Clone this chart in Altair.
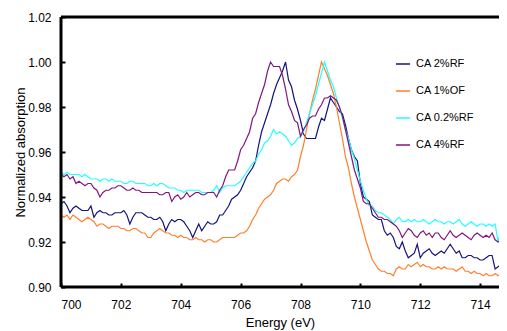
import altair as alt
import pandas as pd

# Energy grid (eV), 0.1 eV steps from 700.0 to 714.9
energy = [round(700 + i / 10, 1) for i in range(150)]

series_names = ["CA 2%RF", "CA 1%OF", "CA 0.2%RF", "CA 4%RF"]
series_colors = ["#14147f", "#ff7f2a", "#22ffff", "#82167f"]

ca_2rf = [
    .937, .938, .936, .933, .935, .936, .935, .934, .934, .934,
    .936, .931, .933, .934, .933, .933, .932, .932, .933, .933,
    .933, .934, .932, .928, .931, .933, .933, .933, .932, .931,
    .931, .930, .930, .931, .929, .925, .928, .930, .929, .930,
    .930, .929, .927, .925, .922, .925, .928, .925, .927, .929,
    .928, .928, .929, .932, .932, .934, .936, .939, .940, .941,
    .943, .946, .949, .951, .953, .956, .963, .969, .973, .977,
    .981, .986, .990, .993, .996, 1.000, .992, .989, .983, .979,
    .974, .968, .966, .966, .966, .966, .971, .975, .974, .979,
    .984, .982, .980, .978, .977, .972, .966, .961, .958, .956,
    .946, .940, .939, .938, .932, .931, .930, .930, .925, .923,
    .924, .922, .918, .917, .920, .916, .913, .914, .915, .919,
    .913, .915, .916, .917, .915, .914, .915, .916, .915, .917,
    .919, .917, .915, .916, .913, .913, .914, .914, .913, .913,
    .912, .912, .913, .914, .914, .908, .909, .910, .911, .910,
]

ca_1of = [
    .932, .931, .932, .930, .932, .931, .930, .929, .930, .931,
    .930, .929, .927, .928, .928, .927, .926, .927, .927, .927,
    .926, .926, .925, .925, .926, .926, .925, .924, .924, .922,
    .922, .924, .925, .926, .925, .924, .924, .923, .923, .922,
    .923, .922, .922, .921, .921, .922, .921, .921, .920, .921,
    .921, .920, .920, .921, .922, .922, .922, .922, .922, .923,
    .924, .924, .925, .927, .930, .932, .935, .937, .939, .940,
    .941, .943, .946, .947, .948, .948, .947, .949, .950, .952,
    .958, .963, .970, .977, .983, .988, .994, 1.000, .997, .994,
    .990, .986, .980, .973, .966, .958, .953, .946, .940, .935,
    .930, .925, .920, .916, .912, .910, .908, .907, .907, .906,
    .906, .905, .908, .909, .908, .908, .910, .909, .910, .911,
    .909, .910, .909, .909, .908, .908, .909, .908, .909, .908,
    .908, .908, .907, .908, .909, .907, .907, .906, .907, .906,
    .906, .905, .906, .905, .905, .906, .905, .906, .905, .904,
]

ca_02rf = [
    .951, .950, .951, .950, .950, .950, .950, .949, .950, .949,
    .948, .948, .948, .947, .948, .948, .947, .948, .947, .947,
    .947, .946, .946, .947, .947, .946, .946, .946, .946, .945,
    .945, .946, .945, .946, .946, .945, .944, .944, .944, .943,
    .943, .942, .943, .943, .943, .943, .943, .942, .942, .942,
    .942, .943, .945, .942, .944, .945, .945, .945, .945, .946,
    .947, .949, .951, .953, .955, .956, .959, .961, .964, .965,
    .967, .970, .968, .969, .968, .967, .965, .963, .964, .966,
    .967, .969, .973, .977, .981, .985, .990, .995, 1.000, .996,
    .992, .989, .984, .980, .975, .970, .966, .961, .957, .952,
    .947, .943, .939, .936, .936, .934, .933, .933, .932, .931,
    .930, .928, .930, .931, .929, .929, .930, .929, .930, .929,
    .929, .930, .929, .928, .929, .930, .929, .929, .928, .929,
    .929, .928, .929, .930, .928, .927, .928, .929, .928, .927,
    .928, .928, .927, .928, .927, .928, .920, .926, .926, .926,
]

ca_4rf = [
    .950, .949, .950, .948, .949, .946, .947, .946, .945, .946,
    .946, .944, .943, .940, .942, .943, .943, .944, .944, .945,
    .945, .944, .943, .943, .944, .943, .943, .942, .942, .942,
    .942, .942, .942, .941, .941, .942, .942, .938, .940, .941,
    .939, .940, .942, .940, .941, .942, .942, .941, .941, .942,
    .942, .942, .940, .943, .945, .949, .952, .952, .952, .956,
    .961, .963, .966, .969, .975, .977, .982, .986, .990, .996,
    1.000, .998, .998, .998, .994, .988, .981, .978, .974, .973,
    .967, .970, .972, .975, .976, .976, .979, .981, .984, .984,
    .985, .984, .983, .980, .976, .970, .964, .958, .952, .948,
    .944, .938, .937, .937, .935, .933, .931, .931, .930, .930,
    .929, .928, .927, .925, .922, .924, .926, .925, .923, .922,
    .924, .925, .923, .924, .922, .924, .924, .922, .921, .923,
    .925, .923, .922, .923, .924, .923, .922, .921, .923, .924,
    .923, .922, .923, .922, .924, .921, .920, .921, .921, .921,
]

x_ticks = [700, 702, 704, 706, 708, 710, 712, 714]
y_ticks = [0.90, 0.92, 0.94, 0.96, 0.98, 1.00, 1.02]

rows = []
for name, vals in zip(series_names, [ca_2rf, ca_1of, ca_02rf, ca_4rf]):
    for e, v in zip(energy, vals):
        rows.append({"Energy": e, "Value": v, "Series": name})
df = pd.DataFrame(rows)

FONT = "Liberation Sans"
x_dom = [700, 714.63]
y_dom = [0.90, 1.02]
x_scale = alt.Scale(domain=x_dom, nice=False, zero=False)
y_scale = alt.Scale(domain=y_dom, nice=False, zero=False)

lines = alt.Chart(df).mark_line(strokeWidth=1.2, clip=True).encode(
    x=alt.X("Energy:Q", scale=x_scale,
            axis=alt.Axis(title="Energy (eV)", values=x_ticks, format="d",
                          offset=-4, domain=False, ticks=True, tickSize=4,
                          tickWidth=2, tickColor="black",
                          labelPadding=12, titlePadding=6, grid=False,
                          labelFontSize=12, titleFontSize=13,
                          labelFont=FONT, titleFont=FONT, titleFontWeight="normal",
                          labelColor="black", titleColor="black")),
    y=alt.Y("Value:Q", scale=y_scale,
            axis=alt.Axis(title="Normalized absorption", values=y_ticks, format=".2f",
                          offset=-4, domain=False, ticks=True, tickSize=4,
                          tickWidth=2, tickColor="black",
                          labelPadding=10, titlePadding=0, grid=False,
                          labelFontSize=12, titleFontSize=13,
                          labelFont=FONT, titleFont=FONT, titleFontWeight="normal",
                          labelColor="black", titleColor="black")),
    color=alt.Color("Series:N",
                    scale=alt.Scale(domain=series_names, range=series_colors),
                    sort=series_names,
                    legend=alt.Legend(title=None, orient="none", legendX=334, legendY=39,
                                      symbolType="stroke", symbolStrokeWidth=1.5,
                                      symbolSize=200, labelFontSize=11, labelFont=FONT,
                                      labelColor="black", rowPadding=14, labelOffset=5,
                                      padding=0)),
)

# frame lines of the plot area (left, bottom, top)
frame_h = alt.Chart(pd.DataFrame({"edge": [0.90, 1.02]})).mark_rule(
    color="black", strokeWidth=3
).encode(y=alt.Y("edge:Q", scale=y_scale))

frame_v = alt.Chart(pd.DataFrame({"edge": [700]})).mark_rule(
    color="black", strokeWidth=3
).encode(x=alt.X("edge:Q", scale=x_scale))

chart = alt.layer(lines, frame_h, frame_v).properties(
    width=438, height=270,
    autosize=alt.AutoSizeParams(type="none"),
    padding={"left": 53, "top": 9, "right": 0, "bottom": 44},
).configure_view(stroke=None).configure(background="white")

chart.save("out.html", embed_options={"renderer": "svg", "actions": False})
